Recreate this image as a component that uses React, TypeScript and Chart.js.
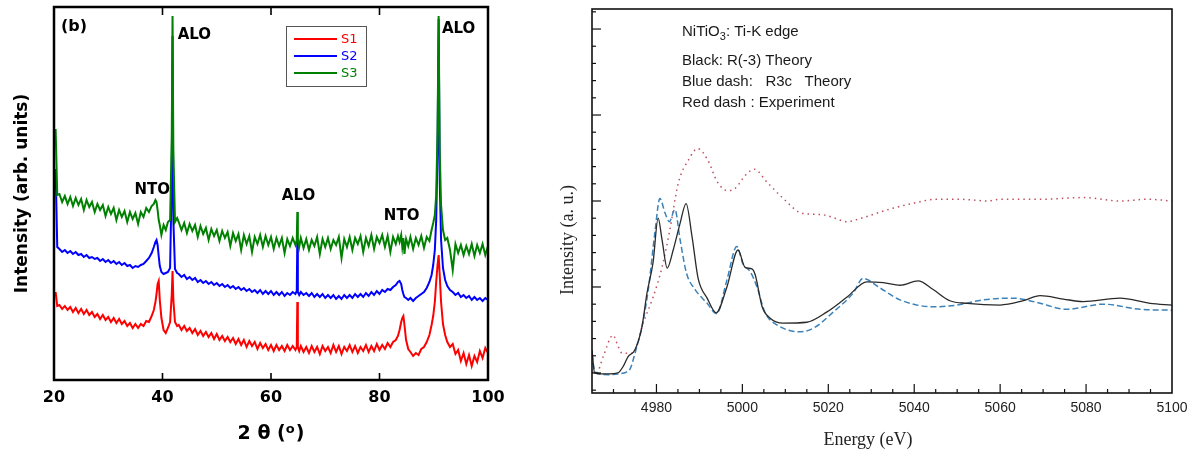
import { useEffect, useRef } from 'react';
import { Chart, registerables } from 'chart.js';

Chart.register(...registerables);

// ---------------- Panel (b): XRD patterns ----------------
const twoTheta = [
  20.3, 20.6, 21, 21.5, 22, 22.5, 23, 23.5, 24, 24.5, 25, 25.5, 26, 26.5, 27, 27.5, 28, 28.5, 29, 29.5, 30, 30.5, 31, 31.5, 32, 32.5, 33, 33.5, 34, 34.5, 35, 35.5, 36, 36.5, 37, 37.5,
  38.0, 38.4, 38.7, 38.9, 39.1, 39.3, 39.5, 39.8, 40.2, 40.6, 41.0, 41.4, 41.7, 41.85, 42.0, 42.3, 42.7,
  43, 43.5, 44, 44.5, 45, 45.5, 46, 46.5, 47, 47.5, 48, 48.5, 49, 49.5, 50, 50.5, 51, 51.5, 52, 52.5, 53, 53.5, 54, 54.5, 55, 55.5, 56, 56.5, 57, 57.5, 58, 58.5, 59, 59.5, 60, 60.5, 61, 61.5, 62, 62.5, 63, 63.5, 64,
  64.5, 64.75, 64.85, 64.95, 65.2,
  65.5, 66, 66.5, 67, 67.5, 68, 68.5, 69, 69.5, 70, 70.5, 71, 71.5, 72, 72.5, 73, 73.5, 74, 74.5, 75, 75.5, 76, 76.5, 77, 77.5, 78, 78.5, 79, 79.5, 80, 80.5, 81, 81.5, 82, 82.5,
  83.0, 83.4, 83.7, 84.0, 84.2, 84.4, 84.6, 84.9, 85.3,
  85.7, 86.2, 86.7, 87.2, 87.7, 88.2, 88.7, 89.2, 89.6, 89.9, 90.2, 90.45, 90.7, 90.9, 91.1, 91.35, 91.7, 92.1, 92.5, 93.0,
  93.5, 94, 94.5, 95, 95.5, 96, 96.5, 97, 97.5, 98, 98.5, 99, 99.5, 100,
];

const s1Intensity = [
  88, 74, 75, 71, 74, 70, 73, 68, 72, 67, 71, 66, 70, 65, 68, 63, 66, 61, 65, 60, 63, 58, 62, 57, 61, 56, 59, 54, 57, 52, 56, 52, 56, 54, 59, 58,
  64, 70, 78, 86, 96, 99, 80, 62, 50, 47, 52, 58, 85, 109, 80, 58, 54,
  55, 50, 54, 49, 52, 47, 51, 45, 49, 44, 48, 43, 47, 41, 46, 40, 44, 39, 43, 38, 42, 36, 41, 35, 40, 33, 39, 34, 38, 31, 37, 32, 36, 30, 35, 29, 35, 30, 34, 29, 35, 30, 34,
  30, 33, 78, 33, 29,
  34, 28, 33, 27, 34, 28, 33, 26, 34, 29, 33, 27, 35, 28, 34, 26, 33, 29, 35, 28, 34, 27, 33, 29, 35, 28, 34, 29, 36, 30, 35, 31, 37, 33, 38,
  40, 44, 50, 58, 62, 64, 55, 40, 31,
  28, 24, 27, 25, 31, 33, 38, 45, 55, 64, 78, 98, 115, 125, 105, 78, 56, 45, 38, 33,
  36, 26, 30, 19, 27, 16, 25, 14, 24, 18, 29, 22, 32, 27,
];

const s2Intensity = [
  211, 133, 131, 128, 130, 127, 129, 126, 128, 125, 126, 123, 125, 122, 123, 121, 122, 119, 121, 118, 120, 117, 119, 116, 118, 115, 117, 114, 115, 112, 114, 113, 115, 116, 119, 122,
  127, 133, 138, 140, 135, 124, 114, 108, 106, 107, 108, 112, 200, 344, 160, 111, 107,
  106, 103, 105, 101, 103, 100, 102, 98, 100, 97, 99, 96, 98, 95, 97, 94, 96, 93, 95, 92, 94, 91, 93, 90, 92, 89, 91, 88, 90, 87, 90, 86, 89, 86, 89, 85, 88, 85, 88, 84, 87, 85, 88,
  86, 89, 140, 88, 85,
  88, 85, 87, 84, 87, 83, 86, 83, 86, 82, 85, 82, 85, 81, 84, 81, 85, 82, 85, 82, 86, 83, 86, 83, 87, 84, 88, 85, 89, 86, 90, 88, 91, 90, 93,
  95, 98, 99, 96, 90, 86, 83, 82, 80,
  82, 79, 82, 84, 86, 88, 92, 98, 105, 115, 130, 160, 230, 361, 200, 140, 112, 100, 94, 90,
  88, 85, 87, 83, 85, 82, 84, 80, 83, 80, 82, 79, 82, 80,
];

const s3Intensity = [
  251, 185, 186, 178, 184, 176, 183, 174, 182, 175, 181, 170, 180, 173, 178, 168, 176, 170, 175, 164, 173, 166, 172, 160, 170, 163, 169, 158, 168, 161, 167, 156, 168, 163, 172, 168,
  174, 176, 180, 178, 170, 160, 155, 145, 155, 150, 158, 160, 240, 364, 230, 158, 162,
  158, 150, 157, 147, 156, 149, 155, 143, 154, 146, 152, 140, 151, 144, 150, 139, 149, 142, 148, 134, 147, 139, 146, 130, 145, 136, 144, 128, 143, 136, 145, 133, 144, 135, 143, 131, 142, 134, 142, 127, 141, 134, 142,
  135, 140, 168, 141, 133,
  142, 132, 141, 130, 140, 134, 143, 126, 141, 133, 142, 131, 140, 135, 143, 122, 141, 133, 143, 130, 142, 136, 144, 128, 142, 134, 145, 131, 143, 137, 145, 133, 144, 128, 143,
  136, 144, 138, 145, 133, 142, 126, 141, 134,
  143, 131, 142, 135, 144, 132, 143, 139, 150, 157, 165, 185, 250, 364, 230, 175, 150, 140, 142, 130,
  110, 136, 127, 135, 125, 134, 126, 136, 124, 135, 127, 136, 125, 134,
];

const xrdSeriesNames = ['S1', 'S2', 'S3'];
const xrdColors = ['#ff0000', '#0000ff', '#008000'];
const xrdTickLabels = [20, 40, 60, 80, 100];
const xrdInnerTicks = [40, 60, 80];
const xrdPeakLabels = [
  { text: 'ALO', x: 42.8, y: 345 },
  { text: 'NTO', x: 34.85, y: 190 },
  { text: 'ALO', x: 62.0, y: 184 },
  { text: 'NTO', x: 80.8, y: 164 },
  { text: 'ALO', x: 91.5, y: 351 },
];

// ---------------- Right panel: Ti-K edge XANES ----------------
const blackEnergy = [
  4965.0, 4965.6, 4967, 4969, 4971, 4972.3, 4973.4, 4975, 4976.6, 4977.8, 4979.2, 4980.4, 4981.3, 4982.5, 4983.9, 4985.5, 4986.9, 4988.3, 4989.7, 4991.8,
  4993.9, 4996.4, 4999.0, 5000.6, 5002.2, 5003.0, 5004.6, 5006.4, 5009.5, 5015, 5019.7, 5024.3, 5029, 5032.8, 5036.7, 5040.9, 5044.4, 5048.3, 5052.3, 5060,
  5065.4, 5069.3, 5074.7, 5079.3, 5087.9, 5094.9, 5100,
];
const blackIntensity = [
  0.27, 0.0, -0.01, -0.01, 0.0, 0.08, 0.19, 0.27, 0.53, 0.93, 1.28, 1.80, 1.55, 1.22, 1.43, 1.74, 1.97, 1.58, 1.10, 0.87,
  0.70, 1.00, 1.43, 1.23, 1.21, 1.14, 0.77, 0.64, 0.58, 0.59, 0.71, 0.88, 1.06, 1.05, 1.02, 1.07, 0.97, 0.84, 0.81, 0.79,
  0.84, 0.90, 0.86, 0.83, 0.87, 0.81, 0.79,
];

const blueEnergy = [
  4965.0, 4965.5, 4966.5, 4969, 4971.5, 4973, 4973.8, 4975.4, 4976.6, 4978.1, 4979.7, 4980.8, 4982, 4983, 4984.3, 4985.5, 4987, 4989, 4991.8, 4994,
  4996.4, 4998.7, 5000.2, 5001.8, 5003.4, 5005.3, 5008, 5013.4, 5016.5, 5021.2, 5025.8, 5028.1, 5032, 5036.7, 5044.4, 5050, 5056, 5063, 5068.6, 5075.5,
  5084, 5092.6, 5100,
];
const blueIntensity = [
  0.22, 0.05, -0.01, -0.02, -0.01, 0.01, 0.04, 0.30, 0.53, 0.97, 1.66, 2.03, 1.86, 1.76, 1.90, 1.55, 1.16, 0.97, 0.81, 0.69,
  1.08, 1.47, 1.26, 1.18, 1.00, 0.70, 0.56, 0.48, 0.52, 0.71, 0.93, 1.10, 0.99, 0.85, 0.77, 0.79, 0.85, 0.87, 0.82, 0.74,
  0.80, 0.74, 0.73,
];

const redEnergy = [
  4965, 4966, 4967.6, 4969.9, 4971, 4972, 4974.5, 4976.9, 4979.2, 4981.3, 4983.1, 4985.1, 4987.5, 4989.6, 4991.9, 4994.2, 4996.5, 4998.4, 5000.7, 5002.8,
  5005.7, 5009.5, 5013.2, 5015.1, 5018.8, 5021.6, 5024.1, 5028.3, 5033.9, 5039.5, 5045.1, 5050.7, 5057.2, 5060, 5069.3, 5079.5, 5087.9, 5094.4, 5100,
];
const redIntensity = [
  0.01, -0.01, 0.19, 0.44, 0.32, 0.23, 0.23, 0.58, 0.88, 1.23, 1.66, 2.21, 2.48, 2.61, 2.48, 2.22, 2.12, 2.15, 2.30, 2.37,
  2.22, 2.03, 1.87, 1.85, 1.84, 1.80, 1.76, 1.81, 1.90, 1.97, 2.02, 2.02, 2.00, 2.02, 2.02, 2.04, 2.00, 2.02, 2.00,
];

const xanesTickLabels = [4980, 5000, 5020, 5040, 5060, 5080, 5100];

// ---------------- Decoration plugins ----------------
const xrdDecor = {
  id: 'xrdDecor',
  afterDraw(chart: any) {
    const { ctx, chartArea, scales } = chart;
    const { left, right, top, bottom } = chartArea;
    const x = scales.x;
    const y = scales.y;
    ctx.save();
    ctx.strokeStyle = '#000';
    ctx.lineWidth = 2.5;
    ctx.strokeRect(left, top, right - left, bottom - top);
    ctx.lineWidth = 1.6;
    for (const v of xrdInnerTicks) {
      const px = x.getPixelForValue(v);
      ctx.beginPath();
      ctx.moveTo(px, bottom);
      ctx.lineTo(px, bottom - 7);
      ctx.moveTo(px, top);
      ctx.lineTo(px, top + 8);
      ctx.stroke();
    }
    ctx.fillStyle = '#000';
    ctx.textBaseline = 'middle';
    ctx.textAlign = 'left';
    ctx.font = 'bold 15px "DejaVu Sans", sans-serif';
    for (const a of xrdPeakLabels) {
      ctx.fillText(a.text, x.getPixelForValue(a.x), y.getPixelForValue(a.y));
    }
    ctx.font = 'bold 16px "DejaVu Sans", sans-serif';
    ctx.fillText('(b)', left + 7, top + 20);

    // legend box
    const lx = left + 232;
    const ly = top + 19;
    ctx.strokeStyle = '#555';
    ctx.lineWidth = 1;
    ctx.strokeRect(lx + 0.5, ly + 0.5, 80, 60);
    ctx.font = '13px "DejaVu Sans", sans-serif';
    xrdSeriesNames.forEach((name, i) => {
      const yy = ly + 13 + i * 17;
      ctx.strokeStyle = xrdColors[i];
      ctx.lineWidth = 2;
      ctx.beginPath();
      ctx.moveTo(lx + 8, yy);
      ctx.lineTo(lx + 51, yy);
      ctx.stroke();
      ctx.fillStyle = xrdColors[i];
      ctx.fillText(name, lx + 55, yy + 1);
    });

    // axis titles
    ctx.fillStyle = '#000';
    ctx.save();
    ctx.translate(23, (top + bottom) / 2);
    ctx.rotate(-Math.PI / 2);
    ctx.textAlign = 'center';
    ctx.font = 'bold 17px "DejaVu Sans", sans-serif';
    ctx.fillText('Intensity (arb. units)', 0, 0);
    ctx.restore();

    const main = 'bold 19px "DejaVu Sans", sans-serif';
    const sup = 'bold 13px "DejaVu Sans", sans-serif';
    ctx.textAlign = 'left';
    ctx.font = main;
    const p1 = '2 \u03b8 (';
    const w1 = ctx.measureText(p1).width;
    const w3 = ctx.measureText(')').width;
    ctx.font = sup;
    const w2 = ctx.measureText('o').width + 1;
    const total = w1 + w2 + w3;
    let cx = (left + right) / 2 - total / 2;
    const ty = 434;
    ctx.font = main;
    ctx.fillText(p1, cx, ty);
    cx += w1;
    ctx.font = sup;
    ctx.fillText('o', cx, ty - 4);
    cx += w2;
    ctx.font = main;
    ctx.fillText(')', cx, ty);
    ctx.restore();
  },
};

const xanesDecor = {
  id: 'xanesDecor',
  afterDraw(chart: any) {
    const { ctx, chartArea, scales } = chart;
    const { left, right, top, bottom } = chartArea;
    const x = scales.x;
    const y = scales.y;
    ctx.save();
    ctx.strokeStyle = '#111';
    ctx.lineWidth = 1.6;
    ctx.strokeRect(left, top, right - left, bottom - top);
    ctx.lineWidth = 1.2;
    for (let e = 4970; e < 5100; e += 5) {
      const px = x.getPixelForValue(e);
      const major = (e - 4980) % 20 === 0;
      ctx.beginPath();
      ctx.moveTo(px, bottom);
      ctx.lineTo(px, bottom - (major ? 9 : 4));
      ctx.stroke();
    }
    for (let k = -1; k <= 21; k++) {
      const py = y.getPixelForValue(k * 0.2);
      const major = k % 5 === 0;
      ctx.beginPath();
      ctx.moveTo(left, py);
      ctx.lineTo(left + (major ? 9 : 4), py);
      ctx.stroke();
    }

    ctx.fillStyle = '#1a1a1a';
    ctx.textBaseline = 'middle';
    ctx.textAlign = 'left';
    const f = '15px "Liberation Sans", Arial, sans-serif';
    const fs = '11px "Liberation Sans", Arial, sans-serif';
    const tx = 142;
    ctx.font = f;
    ctx.fillText('NiTiO', tx, 32);
    const wa = ctx.measureText('NiTiO').width;
    ctx.font = fs;
    ctx.fillText('3', tx + wa, 37);
    const wb = ctx.measureText('3').width;
    ctx.font = f;
    ctx.fillText(': Ti-K edge', tx + wa + wb, 32);
    ctx.fillText('Black: R(-3) Theory', tx, 61);
    ctx.fillText('Blue dash:   R3c   Theory', tx, 82);
    ctx.fillText('Red dash : Experiment', tx, 103);

    ctx.fillStyle = '#222';
    ctx.font = '18px "Liberation Serif", "Times New Roman", serif';
    ctx.textAlign = 'center';
    ctx.fillText('Energy (eV)', 328, 440);
    ctx.save();
    ctx.translate(28, 240);
    ctx.rotate(-Math.PI / 2);
    ctx.fillText('Intensity (a. u.)', 0, 0);
    ctx.restore();
    ctx.restore();
  },
};

function xrdConfig(): any {
  const series = [s1Intensity, s2Intensity, s3Intensity];
  const datasets = [2, 1, 0].map((i) => ({
    label: xrdSeriesNames[i],
    data: twoTheta.map((t, j) => ({ x: t, y: series[i][j] })),
    borderColor: xrdColors[i],
    borderWidth: 2,
    pointRadius: 0,
    tension: 0,
    fill: false,
  }));
  return {
    type: 'line',
    data: { datasets },
    options: {
      animation: false,
      responsive: false,
      maintainAspectRatio: false,
      layout: { padding: { left: 0, right: 32, top: 7, bottom: 0 } },
      plugins: { legend: { display: false }, tooltip: { enabled: false } },
      scales: {
        x: {
          type: 'linear',
          min: 20,
          max: 100,
          afterBuildTicks: (s: any) => {
            s.ticks = xrdTickLabels.map((v) => ({ value: v }));
          },
          afterFit: (s: any) => {
            s.height = 70;
            s.paddingLeft = 0;
            s.paddingRight = 0;
          },
          grid: { display: false, drawTicks: false },
          border: { display: false },
          ticks: {
            autoSkip: false,
            maxRotation: 0,
            padding: 8,
            color: '#000',
            callback: (v: any) => String(v),
            font: { family: '"DejaVu Sans", sans-serif', size: 16, weight: 'bold' },
          },
        },
        y: {
          type: 'linear',
          min: 0,
          max: 373,
          afterFit: (s: any) => {
            s.width = 54;
          },
          grid: { display: false, drawTicks: false },
          border: { display: false },
          ticks: { display: false },
        },
      },
    },
    plugins: [xrdDecor],
  };
}

function xanesConfig(): any {
  const mk = (label: string, es: number[], vs: number[], color: string, width: number, dash: number[]) => ({
    label,
    data: es.map((e, i) => ({ x: e, y: vs[i] })),
    borderColor: color,
    borderWidth: width,
    borderDash: dash,
    pointRadius: 0,
    cubicInterpolationMode: 'monotone',
    fill: false,
  });
  return {
    type: 'line',
    data: {
      datasets: [
        mk('R(-3) Theory', blackEnergy, blackIntensity, '#2a2a2a', 1.3, []),
        mk('R3c Theory', blueEnergy, blueIntensity, '#3c82b9', 1.5, [6, 3]),
        mk('Experiment', redEnergy, redIntensity, '#c05060', 1.5, [1.5, 4]),
      ],
    },
    options: {
      animation: false,
      responsive: false,
      maintainAspectRatio: false,
      layout: { padding: { left: 0, right: 16, top: 9, bottom: 0 } },
      plugins: { legend: { display: false }, tooltip: { enabled: false } },
      scales: {
        x: {
          type: 'linear',
          min: 4965,
          max: 5100,
          afterBuildTicks: (s: any) => {
            s.ticks = xanesTickLabels.map((v) => ({ value: v }));
          },
          afterFit: (s: any) => {
            s.height = 57;
            s.paddingLeft = 0;
            s.paddingRight = 0;
          },
          grid: { display: false, drawTicks: false },
          border: { display: false },
          ticks: {
            autoSkip: false,
            maxRotation: 0,
            padding: 7,
            color: '#222',
            callback: (v: any) => String(v),
            font: { family: '"Liberation Sans", Arial, sans-serif', size: 14 },
          },
        },
        y: {
          type: 'linear',
          min: -0.233,
          max: 4.233,
          afterFit: (s: any) => {
            s.width = 52;
          },
          grid: { display: false, drawTicks: false },
          border: { display: false },
          ticks: { display: false },
        },
      },
    },
    plugins: [xanesDecor],
  };
}

export default function App() {
  const leftRef = useRef<HTMLCanvasElement>(null);
  const rightRef = useRef<HTMLCanvasElement>(null);
  useEffect(() => {
    const c1 = new Chart(leftRef.current as HTMLCanvasElement, xrdConfig());
    const c2 = new Chart(rightRef.current as HTMLCanvasElement, xanesConfig());
    return () => {
      c1.destroy();
      c2.destroy();
    };
  }, []);
  return (
    <div style={{ position: 'absolute', left: 0, top: 0, width: 1188, height: 450, background: '#fff', overflow: 'hidden' }}>
      <canvas ref={leftRef} width={520} height={450} style={{ position: 'absolute', left: 0, top: 0, width: 520, height: 450 }} />
      <canvas ref={rightRef} width={648} height={450} style={{ position: 'absolute', left: 540, top: 0, width: 648, height: 450 }} />
    </div>
  );
}
